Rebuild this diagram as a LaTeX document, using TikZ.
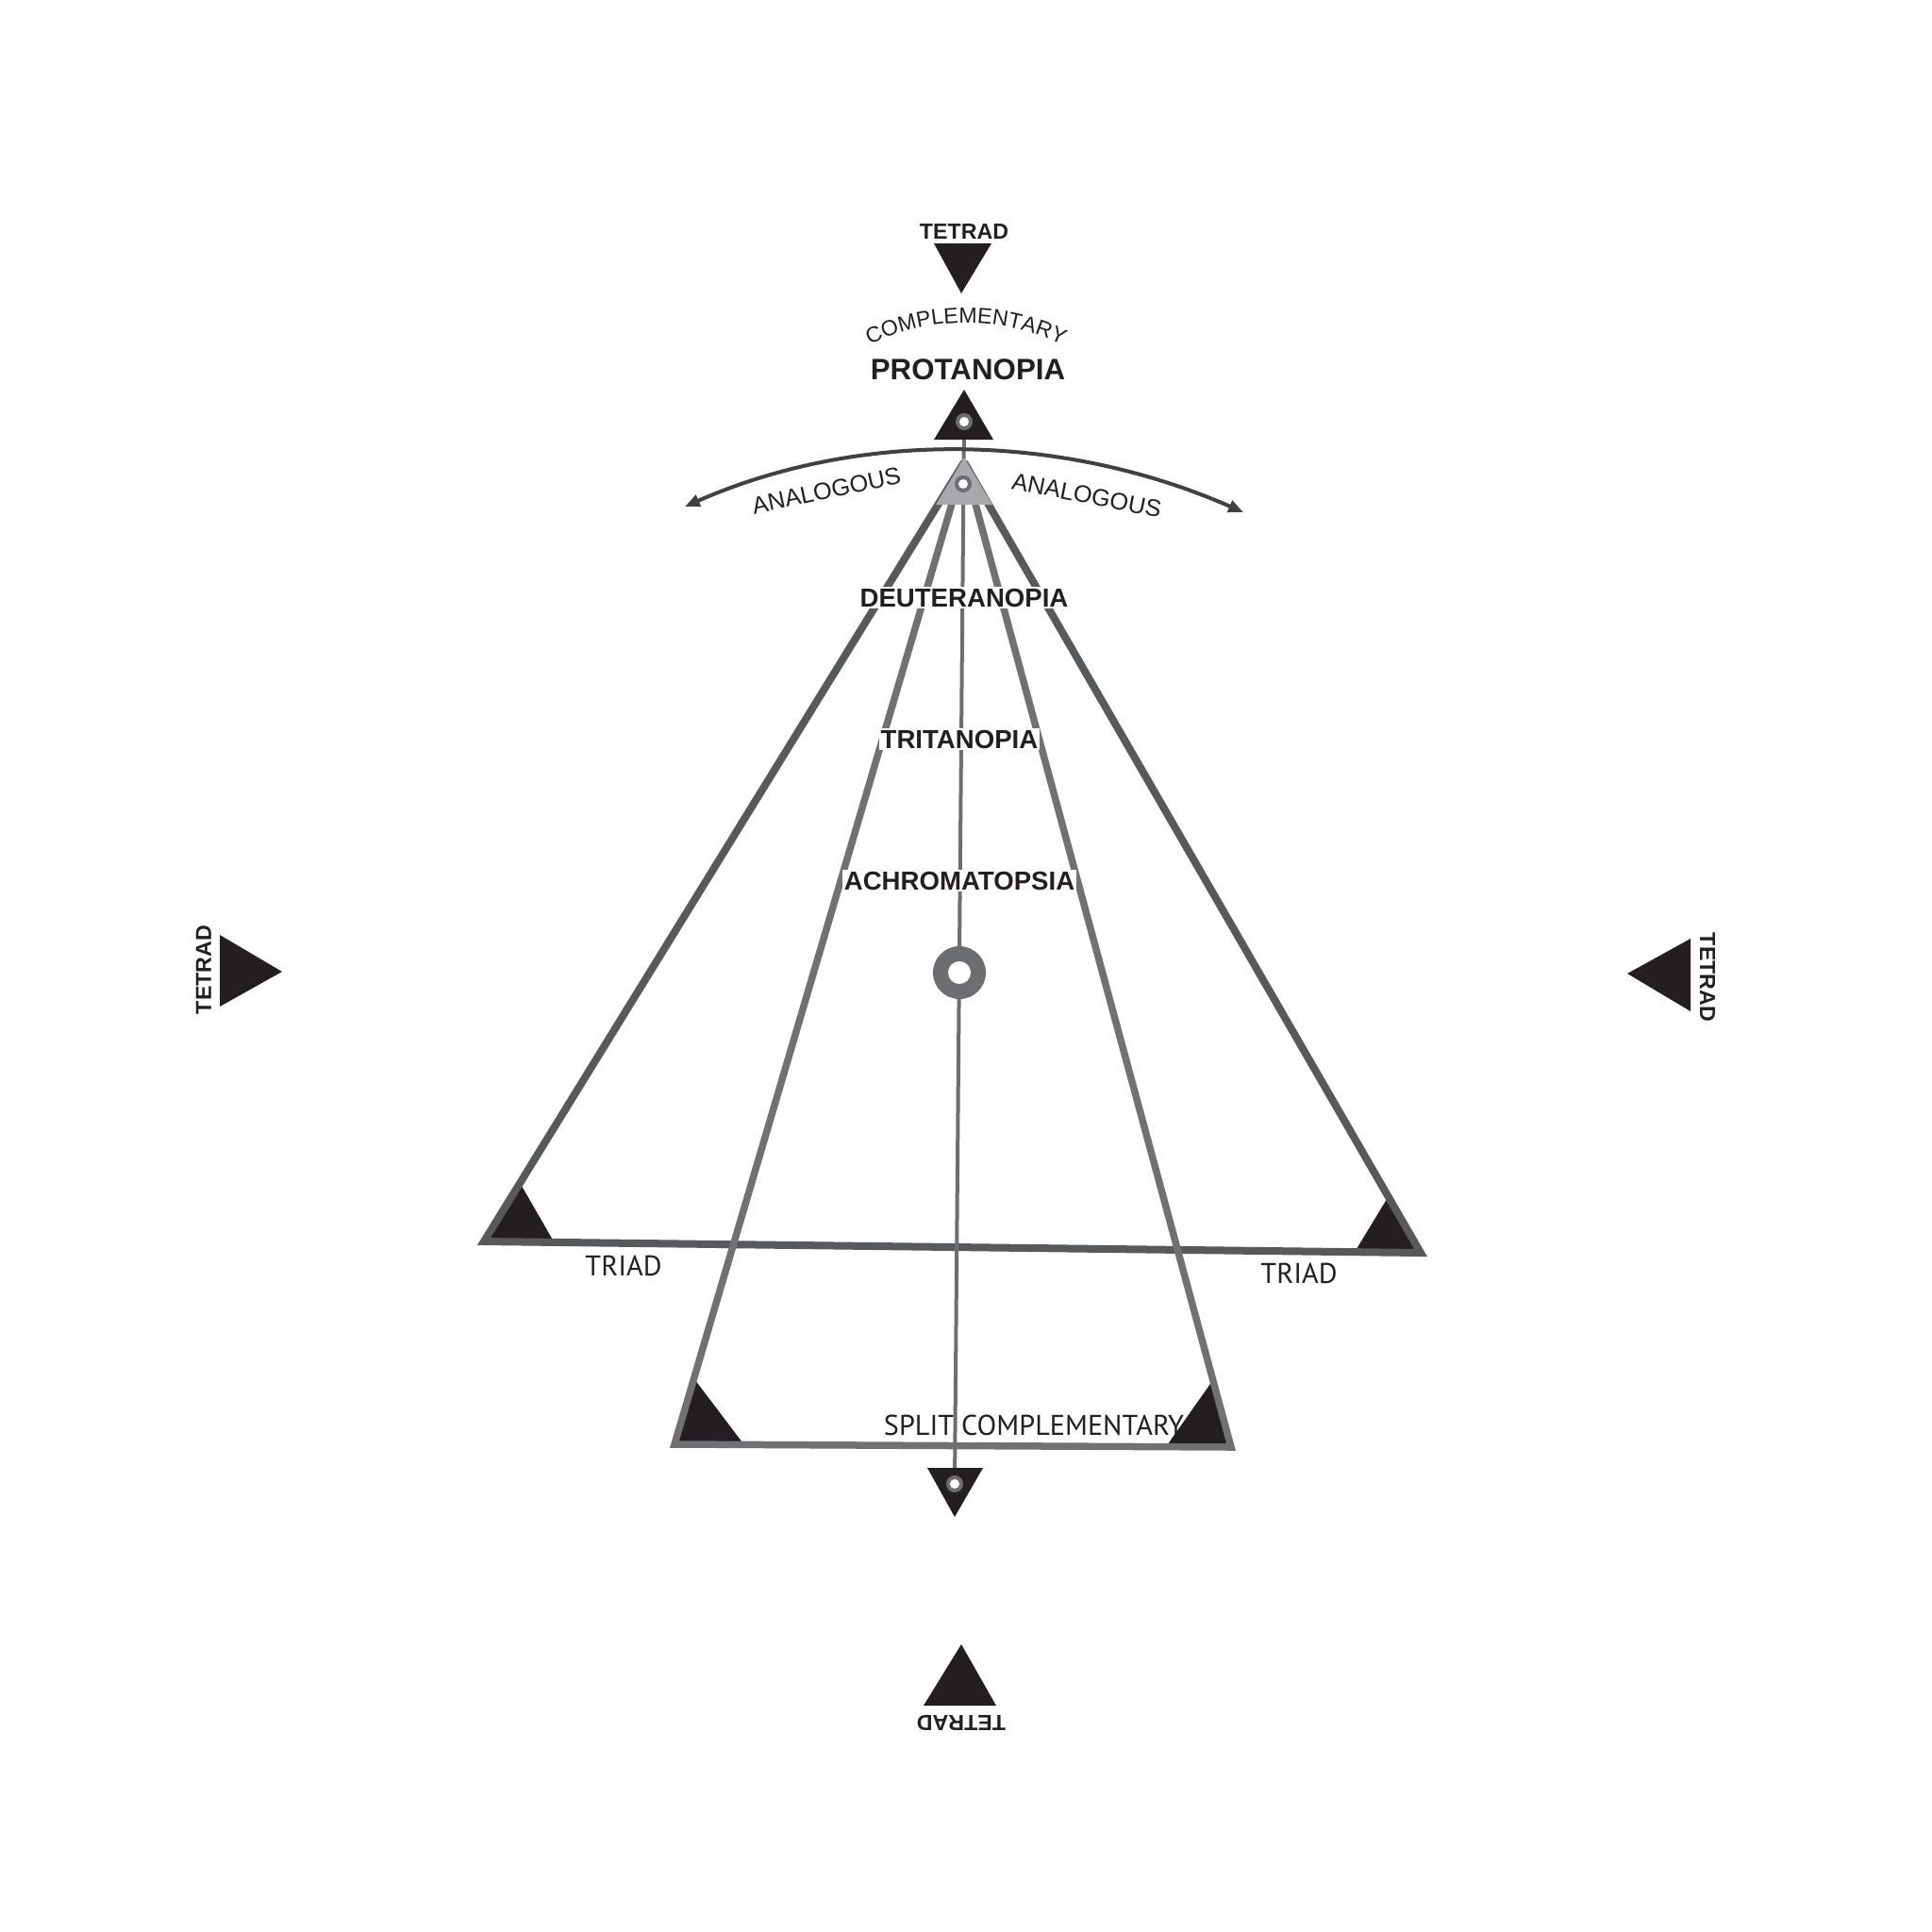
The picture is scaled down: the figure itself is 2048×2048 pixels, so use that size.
\documentclass[tikz,border=0pt]{standalone}
\usepackage{fontspec}
\setmainfont{Liberation Sans}
\newfontfamily\triadfont{PT Sans}
\usetikzlibrary{calc,arrows.meta,decorations.text}

\definecolor{triblack}{HTML}{231F20}
\definecolor{outergray}{HTML}{58595B}
\definecolor{innergray}{HTML}{717174}
\definecolor{ringgray}{HTML}{6D6E71}
\definecolor{pointergray}{HTML}{A7A9AC}
\definecolor{arcgray}{HTML}{414042}

\tikzset{
  schemelabel/.style={font=\bfseries\fontsize{7.85pt}{9pt}\selectfont, text=triblack, fill=white, inner sep=0.6pt, anchor=base},
  tetradlabel/.style={font=\bfseries\fontsize{6.6pt}{8pt}\selectfont, text=triblack, inner sep=0pt},
  harmonylabel/.style={font=\triadfont\fontsize{8.6pt}{10pt}\selectfont, text=triblack, inner sep=0pt, anchor=base},
  arclabel/.style={font=\fontsize{7.2pt}{9pt}\selectfont, text=triblack, inner sep=0pt},
  marker/.style={fill=triblack},
  tipmark/.tip={Triangle[length=4.5pt,width=3.6pt]}
}

\begin{document}
\begin{tikzpicture}[x=0.01cm,y=-0.01cm,line join=miter]
    \fill[white] (0,0) rectangle (2048,2048);
    \useasboundingbox (0,0) rectangle (2048,2048);
    \coordinate (apex) at (1022,490);
    \coordinate (triL) at (513,1316);
    \coordinate (triR) at (1506,1328);
    \coordinate (splL) at (715,1531);
    \coordinate (splR) at (1305,1534);
    \coordinate (protRing) at (1022,447);
    \coordinate (grayRing) at (1021,513);
    \coordinate (centRing) at (1017,1031);
    \coordinate (compRing) at (1012,1573);
    \coordinate (anaL) at (726,537);
    \coordinate (anaR) at (1318,543);
    % corner markers
    \fill[marker] (triL) -- ($(triL)!0.075!(apex)$) -- ($(triL)!0.075!(triR)$) -- cycle;
    \fill[marker] (triR) -- ($(triR)!0.071!(apex)$) -- ($(triR)!0.0705!(triL)$) -- cycle;
    \fill[marker] (splL) -- ($(splL)!0.067!(apex)$) -- ($(splL)!0.125!(splR)$) -- cycle;
    \fill[marker] (splR) -- ($(splR)!0.068!(apex)$) -- ($(splR)!0.117!(splL)$) -- cycle;
    % triad and split complementary
    \draw[outergray,line width=0.8mm] (apex) -- (triL) -- (triR) -- (apex);
    \draw[innergray,line width=0.75mm] (apex) -- (splL) -- (splR) -- (apex);
    \draw[ringgray,line width=0.4mm] (protRing) -- (compRing);
    % pointers
    \fill[pointergray] (1022,485) -- (992,535) -- (1052,535) -- cycle;
    \fill[marker] (1022,413) -- (990,466) -- (1053,466) -- cycle;
    \fill[marker] (983,1556) -- (1042,1556) -- (1012,1608) -- cycle;
    \foreach \ring in {protRing,grayRing,compRing}{
        \fill[ringgray] (\ring) circle[radius=0.9mm];
        \fill[white] (\ring) circle[radius=0.5mm];
    }
    \fill[ringgray] (centRing) circle[radius=2.8mm];
    \fill[white] (centRing) circle[radius=1.2mm];
    % tetrad
    \fill[marker] (990,258) -- (1051,258) -- (1019,311) -- cycle;
    \fill[marker] (233,991) -- (299,1030) -- (233,1067) -- cycle;
    \fill[marker] (1792,995) -- (1725,1032) -- (1792,1072) -- cycle;
    \fill[marker] (1019,1743) -- (1056,1808) -- (979,1808) -- cycle;
    \node[tetradlabel] (tetN) at (1022,246) {TETRAD};
    \node[tetradlabel,rotate=90] (tetW) at (216,1028) {TETRAD};
    \node[tetradlabel,rotate=-90] (tetE) at (1810,1036) {TETRAD};
    \node[tetradlabel,rotate=180] (tetS) at (1019,1826) {TETRAD};
    % analogous
    \draw[arcgray,line width=0.4mm,tipmark-tipmark] (anaL) .. controls +(189,-83) and +(-189,-83) .. (anaR);
    \node[arclabel,rotate=12] (analogL) at (876,520) {ANALOGOUS};
    \node[arclabel,rotate=-11] (analogR) at (1152,525) {ANALOGOUS};
    \path[decorate,decoration={text along path,text align=center,text color=triblack,
        text={|\fontsize{6.6pt}{8pt}\selectfont|COMPLEMENTARY}}]
        (914,370) .. controls (983,333) and (1065,333) .. (1134,370);
    % labels
    \node[schemelabel,fill=none,inner sep=0pt,font=\bfseries\fontsize{8.9pt}{10pt}\selectfont] (protanopia) at (1026,402) {PROTANOPIA};
    \node[schemelabel] (deuteranopia) at (1022,643) {DEUTERANOPIA};
    \node[schemelabel] (tritanopia) at (1017,793) {TRITANOPIA};
    \node[schemelabel] (achromatopsia) at (1017,943) {ACHROMATOPSIA};
    \node[harmonylabel] (triadL) at (661,1352) {TRIAD};
    \node[harmonylabel] (triadR) at (1377,1360) {TRIAD};
    \node[harmonylabel] (splitComp) at (1096,1521) {SPLIT COMPLEMENTARY};
\end{tikzpicture}
\end{document}
